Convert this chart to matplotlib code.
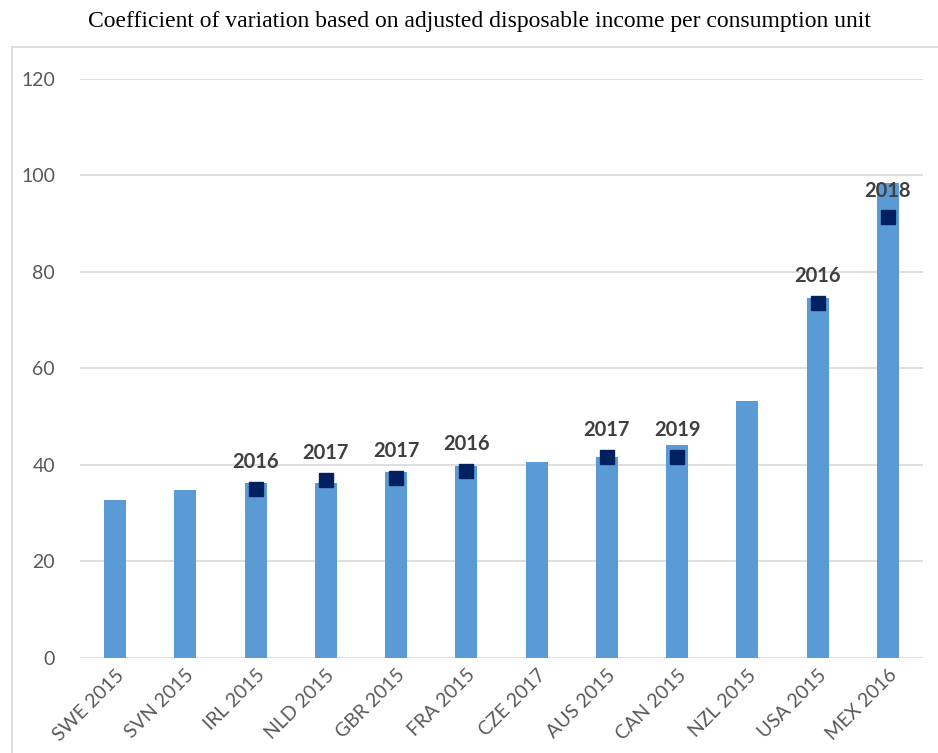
import matplotlib.pyplot as plt
from matplotlib.patches import Rectangle

# data
countries = ["SWE 2015", "SVN 2015", "IRL 2015", "NLD 2015", "GBR 2015", "FRA 2015",
             "CZE 2017", "AUS 2015", "CAN 2015", "NZL 2015", "USA 2015", "MEX 2016"]
cv_values = [32.7, 34.8, 36.3, 36.3, 38.5, 39.8, 40.6, 41.7, 44.1, 53.3, 74.6, 98.4]

# later-year points (index of country, value, year label)
later_idx = [2, 3, 4, 5, 7, 8, 10, 11]
later_values = [35.0, 36.9, 37.3, 38.8, 41.7, 41.7, 73.6, 91.3]
later_years = ["2016", "2017", "2017", "2016", "2017", "2019", "2016", "2018"]

fig = plt.figure(figsize=(9.38, 7.53), dpi=100)
ax = fig.add_axes([0.0853, 0.1262, 0.8987, 0.7689])

x = list(range(len(countries)))
ax.bar(x, cv_values, width=0.31, color="#5b9bd5", zorder=2)
ax.plot(later_idx, later_values, linestyle="none", marker="s", markersize=10,
        color="#002060", zorder=3)
for i, v, yr in zip(later_idx, later_values, later_years):
    ax.annotate(yr, (i, v), xytext=(0, 12), textcoords="offset points",
                ha="center", va="bottom", fontsize=14.5, fontweight="bold",
                color="#404040", family="Lato")

ax.set_xlim(-0.5, len(countries) - 0.5)
ax.set_ylim(0, 120)
ax.set_yticks(range(0, 121, 20))
ax.grid(axis="y", color="#d9d9d9", linewidth=1.2, zorder=0)
for s in ax.spines.values():
    s.set_visible(False)
ax.tick_params(axis="both", length=0, labelsize=14, labelcolor="#595959")
ax.tick_params(axis="y", pad=18)
ax.tick_params(axis="x", pad=6)
ax.set_xticks(x)
ax.set_xticklabels(countries, rotation=45, ha="right", rotation_mode="anchor",
                   family="Lato")
for lab in ax.get_yticklabels():
    lab.set_family("Lato")

fig.text(0.511, 0.971, "Coefficient of variation based on adjusted disposable income per consumption unit",
         ha="center", va="center", fontsize=17, family="Liberation Serif")

fig.patches.append(Rectangle((0.013, -0.01), 1.0, 0.947, transform=fig.transFigure,
                             fill=False, edgecolor="#d9d9d9", linewidth=1.2))

fig.savefig("out.png", dpi=100)
